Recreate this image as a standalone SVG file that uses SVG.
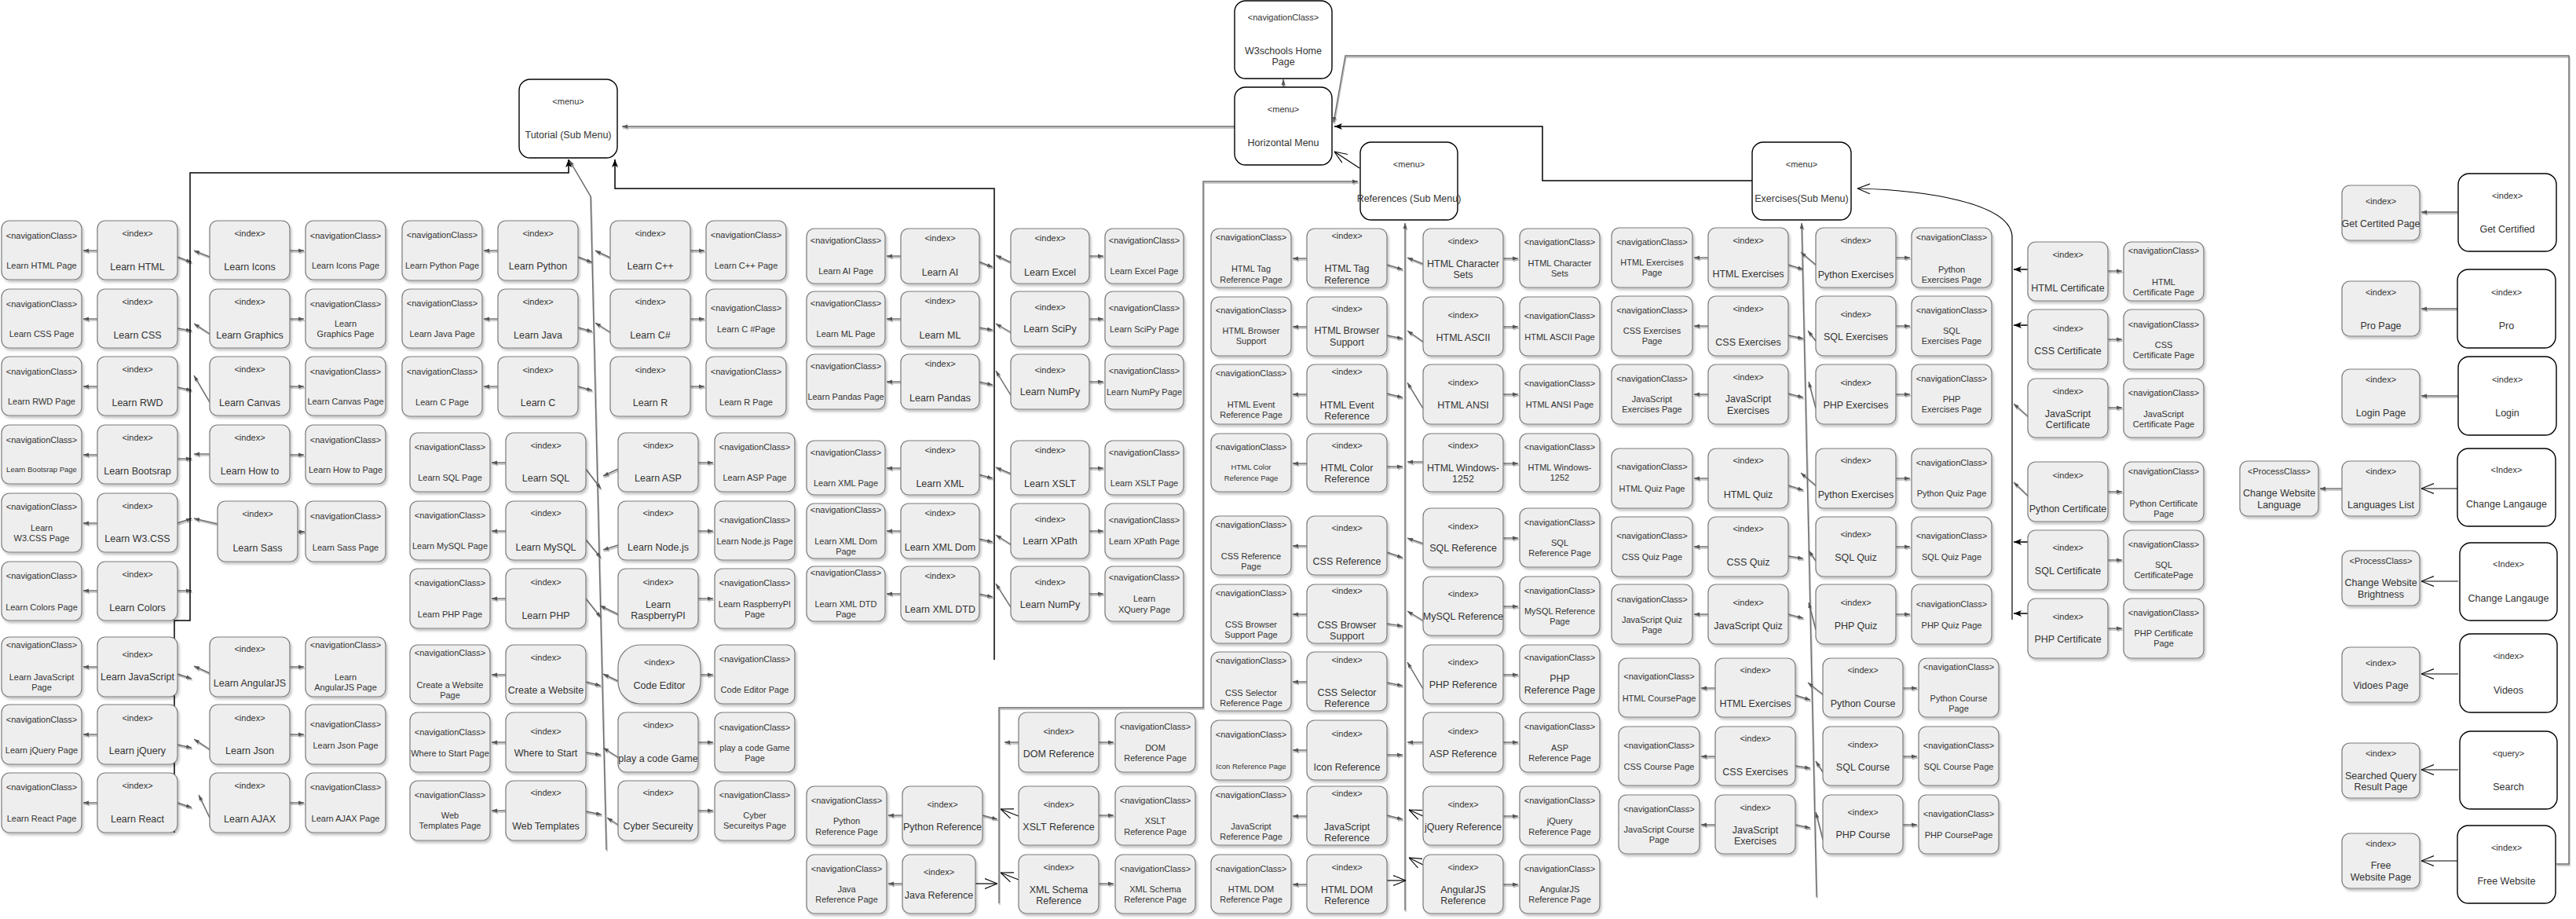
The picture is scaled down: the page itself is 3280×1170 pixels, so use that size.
<svg xmlns="http://www.w3.org/2000/svg" width="3280" height="1170" viewBox="0 0 3280 1170">
<style>
rect.n{fill:#eeeeee;stroke:#7a7a7a;stroke-width:1.2;filter:url(#ds)}
rect.m{fill:#ffffff;stroke:#000;stroke-width:1.4}
text{font-family:"Liberation Sans",Arial,Helvetica,sans-serif;fill:#333;text-anchor:middle}
.s{font-size:11px}
.l{font-size:12.5px}
.p{font-size:11px}
.t{font-size:9.5px}
.g{fill:none;stroke:#6a6a6a;stroke-width:1.4;marker-end:url(#af)}
.k{fill:none;stroke:#000;stroke-width:1.5;marker-end:url(#ab)}
.o{fill:none;stroke:#000;stroke-width:1.2;marker-end:url(#ao)}
</style>
<defs>
<filter id="ds" x="-10%" y="-10%" width="130%" height="130%"><feDropShadow dx="2" dy="3" stdDeviation="1.5" flood-color="#000" flood-opacity="0.22"/></filter>
<filter id="ls" filterUnits="userSpaceOnUse" x="0" y="0" width="3280" height="1170"><feDropShadow dx="1" dy="2" stdDeviation="0.6" flood-color="#000" flood-opacity="0.28"/></filter>
<marker id="af" viewBox="0 0 10 10" refX="10" refY="5" markerWidth="7" markerHeight="7" orient="auto" markerUnits="userSpaceOnUse"><path d="M0,1.5 L10,5 L0,8.5 z" fill="#555"/></marker>
<marker id="ab" viewBox="0 0 10 10" refX="10" refY="5" markerWidth="10" markerHeight="10" orient="auto" markerUnits="userSpaceOnUse"><path d="M0,1 L10,5 L0,9 L2.5,5 z" fill="#000"/></marker>
<marker id="ao" viewBox="0 0 20 20" refX="20" refY="10" markerWidth="16" markerHeight="16" orient="auto" markerUnits="userSpaceOnUse"><path d="M0,2 L20,10 L0,18" fill="none" stroke="#000" stroke-width="1.4"/></marker>
</defs>
<rect width="3280" height="1170" fill="#fff"/>

<!-- ================= CONNECTORS ================= -->
<g id="connectors">
<g id="gray-connectors" filter="url(#ls)">
<path class="g" d="M1572,161 H792"/>
<path class="g" d="M1634,111 V101"/>
<path class="g" d="M772,1082 L752,250 L725,204"/>
<path class="g" d="M1272,1150 V901 H1532 V231 H1729"/>
<path class="g" d="M1789,1159 V284"/>
<path class="g" d="M2313,1142 L2294,284"/>
<path class="g" d="M3255,1100 H3271 V71 H1713 L1698,156"/>
<!-- right column -->
<path class="g" d="M3130,270 H3083"/>
<path class="g" d="M3130,393 H3083"/>
<path class="g" d="M3130,504 H3083"/>
<path class="g" d="M2982,622 H2954"/>
<path class="g" d="M2582,530 L2564,514"/>
<path class="g" d="M2582,631 L2564,614"/>
<!-- T1 index -> nav -->
<path class="g" d="M124,319 H106"/><path class="g" d="M124,406 H106"/><path class="g" d="M124,492 H106"/><path class="g" d="M124,579 H106"/><path class="g" d="M124,666 H106"/><path class="g" d="M124,752 H106"/><path class="g" d="M124,849 H106"/><path class="g" d="M124,935 H106"/><path class="g" d="M124,1022 H106"/>
<path class="g" d="M369,319 H387"/><path class="g" d="M369,406 H387"/><path class="g" d="M369,492 H387"/><path class="g" d="M369,579 H387"/><path class="g" d="M379,677 H388"/><path class="g" d="M369,849 H387"/><path class="g" d="M369,935 H387"/><path class="g" d="M369,1022 H387"/>
<!-- T1 to line -->
<path class="g" d="M226,327 L244,334"/><path class="g" d="M226,418 L244,421"/><path class="g" d="M226,493 L244,497"/><path class="g" d="M226,584 H244"/><path class="g" d="M226,666 L244,660"/><path class="g" d="M226,752 H244"/><path class="g" d="M226,858 L244,864"/><path class="g" d="M226,948 L244,952"/><path class="g" d="M226,1022 L244,1028"/>
<path class="g" d="M267,327 L247,319"/><path class="g" d="M267,425 L247,412"/><path class="g" d="M267,512 L247,478"/><path class="g" d="M267,578 H247"/><path class="g" d="M277,667 L247,660"/><path class="g" d="M267,857 L247,848"/><path class="g" d="M267,954 L247,941"/><path class="g" d="M267,1041 L253,1012"/>
<!-- T2 -->
<path class="g" d="M634,319 H616"/><path class="g" d="M634,406 H616"/><path class="g" d="M634,492 H616"/>
<path class="g" d="M644,589 H626"/><path class="g" d="M644,676 H626"/><path class="g" d="M644,762 H626"/><path class="g" d="M644,859 H626"/><path class="g" d="M644,945 H626"/><path class="g" d="M644,1032 H626"/>
<path class="g" d="M879,319 H897"/><path class="g" d="M879,406 H897"/><path class="g" d="M879,492 H897"/>
<path class="g" d="M889,589 H908"/><path class="g" d="M889,676 H908"/><path class="g" d="M889,762 H908"/><path class="g" d="M892,859 H908"/><path class="g" d="M889,945 H908"/><path class="g" d="M889,1032 H908"/>
<path class="g" d="M736,327 L754,334"/><path class="g" d="M736,417 L754,422"/><path class="g" d="M736,492 L754,497"/>
<path class="g" d="M777,328 L758,319"/><path class="g" d="M777,423 L758,411"/>
<path class="g" d="M746,597 L765,622"/><path class="g" d="M746,687 L765,710"/><path class="g" d="M746,762 L765,786"/><path class="g" d="M746,868 L765,873"/><path class="g" d="M746,958 L765,961"/><path class="g" d="M746,1033 L766,1037"/>
<path class="g" d="M787,597 L768,606"/><path class="g" d="M787,694 L768,700"/><path class="g" d="M787,782 L764,771"/><path class="g" d="M787,867 L768,858"/><path class="g" d="M787,964 L768,952"/><path class="g" d="M787,1050 L773,1041"/>
<!-- T3 -->
<path class="g" d="M1147,326 H1129"/><path class="g" d="M1147,406 H1129"/><path class="g" d="M1147,486 H1129"/><path class="g" d="M1147,596 H1129"/><path class="g" d="M1147,676 H1129"/><path class="g" d="M1147,756 H1129"/>
<path class="g" d="M1387,326 H1405"/><path class="g" d="M1387,406 H1405"/><path class="g" d="M1387,486 H1405"/><path class="g" d="M1387,596 H1405"/><path class="g" d="M1387,676 H1405"/><path class="g" d="M1387,756 H1405"/>
<path class="g" d="M1246,333 L1264,340"/><path class="g" d="M1246,417 L1264,420"/><path class="g" d="M1246,486 L1264,490"/><path class="g" d="M1246,604 L1264,609"/><path class="g" d="M1246,686 L1264,690"/><path class="g" d="M1246,756 L1264,760"/>
<path class="g" d="M1287,334 L1268,325"/><path class="g" d="M1287,423 L1268,412"/><path class="g" d="M1287,503 L1268,472"/><path class="g" d="M1287,603 L1268,595"/><path class="g" d="M1287,693 L1268,681"/><path class="g" d="M1287,773 L1268,743"/>
<!-- R1 -->
<path class="g" d="M1149,1038 H1131"/><path class="g" d="M1149,1125 H1131"/>
<path class="g" d="M1399,945 H1418"/><path class="g" d="M1399,1038 H1418"/><path class="g" d="M1399,1125 H1418"/>
<path class="g" d="M1297,945 H1279"/><path class="g" d="M1251,1038 L1270,1043"/>
<!-- R2 -->
<path class="g" d="M1664,329 H1646"/><path class="g" d="M1664,416 H1646"/><path class="g" d="M1664,502 H1646"/><path class="g" d="M1664,590 H1646"/><path class="g" d="M1664,695 H1646"/><path class="g" d="M1664,782 H1646"/><path class="g" d="M1664,868 H1646"/><path class="g" d="M1664,955 H1646"/><path class="g" d="M1664,1039 H1646"/><path class="g" d="M1664,1126 H1646"/>
<path class="g" d="M1914,329 H1933"/><path class="g" d="M1914,416 H1933"/><path class="g" d="M1914,502 H1933"/><path class="g" d="M1914,590 H1933"/><path class="g" d="M1914,685 H1933"/><path class="g" d="M1914,772 H1933"/><path class="g" d="M1914,859 H1933"/><path class="g" d="M1914,945 H1933"/><path class="g" d="M1914,1039 H1933"/><path class="g" d="M1914,1126 H1933"/>
<path class="g" d="M1766,337 L1786,343"/><path class="g" d="M1766,427 L1786,431"/><path class="g" d="M1766,501 L1786,506"/><path class="g" d="M1766,594 H1786"/><path class="g" d="M1766,703 L1786,710"/><path class="g" d="M1766,794 L1786,797"/><path class="g" d="M1766,869 L1786,873"/><path class="g" d="M1766,961 H1786"/><path class="g" d="M1766,1038 L1786,1043"/>
<path class="g" d="M1812,336 L1792,328"/><path class="g" d="M1812,435 L1792,421"/><path class="g" d="M1812,520 L1792,487"/><path class="g" d="M1812,588 H1792"/><path class="g" d="M1812,692 L1792,685"/><path class="g" d="M1812,790 L1792,778"/><path class="g" d="M1812,877 L1792,843"/><path class="g" d="M1812,945 H1792"/>
<!-- X -->
<path class="g" d="M2175,328 H2157"/><path class="g" d="M2175,415 H2157"/><path class="g" d="M2175,502 H2157"/><path class="g" d="M2175,609 H2157"/><path class="g" d="M2175,696 H2157"/><path class="g" d="M2175,782 H2157"/>
<path class="g" d="M2184,876 H2166"/><path class="g" d="M2184,963 H2166"/><path class="g" d="M2184,1050 H2166"/>
<path class="g" d="M2414,328 H2432"/><path class="g" d="M2414,415 H2432"/><path class="g" d="M2414,502 H2432"/><path class="g" d="M2414,609 H2432"/><path class="g" d="M2414,696 H2432"/><path class="g" d="M2414,782 H2432"/>
<path class="g" d="M2423,876 H2441"/><path class="g" d="M2423,963 H2441"/><path class="g" d="M2423,1050 H2441"/>
<path class="g" d="M2277,337 L2296,343"/><path class="g" d="M2277,427 L2296,431"/><path class="g" d="M2277,501 L2296,506"/><path class="g" d="M2277,618 L2296,624"/><path class="g" d="M2277,708 L2296,711"/><path class="g" d="M2277,782 L2296,787"/>
<path class="g" d="M2286,885 L2305,891"/><path class="g" d="M2286,975 L2305,978"/><path class="g" d="M2286,1050 L2305,1054"/>
<path class="g" d="M2312,337 L2293,321"/><path class="g" d="M2312,434 L2302,421"/><path class="g" d="M2312,520 L2303,486"/><path class="g" d="M2312,618 L2293,602"/><path class="g" d="M2312,714 L2303,701"/><path class="g" d="M2312,802 L2303,767"/>
<path class="g" d="M2321,884 L2302,869"/><path class="g" d="M2321,983 L2312,969"/><path class="g" d="M2321,1069 L2312,1034"/>
<!-- certs -->
<path class="g" d="M2684,345 H2702"/><path class="g" d="M2684,432 H2702"/><path class="g" d="M2684,519 H2702"/><path class="g" d="M2684,626 H2702"/><path class="g" d="M2684,713 H2702"/><path class="g" d="M2684,800 H2702"/>
</g>
<g id="black-connectors">
<path class="k" d="M222,1060 V790 H242 V220 H724 V203"/>
<path class="k" d="M1266,840 V240 H783 V203"/>
<path class="k" d="M2231,230 H1964 V161 H1699"/>
<path class="o" d="M1731,214 L1699,193"/>
<path class="o" d="M2562,789 V300 C2558,258 2450,242 2365,240"/>
<path class="k" d="M2582,343 H2564"/><path class="k" d="M2582,414 H2564"/><path class="k" d="M2582,690 H2564"/><path class="k" d="M2582,781 H2564"/>
<path class="o" d="M1297,1039 L1274,1030"/><path class="o" d="M1242,1125 H1270"/><path class="o" d="M1297,1120 L1274,1111"/>
<path class="o" d="M1812,1039 L1794,1031"/><path class="o" d="M1766,1121 H1790"/><path class="o" d="M1812,1101 L1794,1092"/>
<path class="o" d="M3130,622 H3083"/><path class="o" d="M3130,740 H3083"/><path class="o" d="M3130,858 H3083"/><path class="o" d="M3130,980 H3083"/><path class="o" d="M3130,1096 H3083"/>
</g>
</g>

<!-- ================= MENUS ================= -->
<g id="w3schools-home"><rect class="m" x="1572" y="1" width="124" height="99" rx="14"/><text class="s" x="1634" y="26">&lt;navigationClass&gt;</text><text class="l" x="1634" y="69">W3schools Home</text><text class="l" x="1634" y="83">Page</text></g>
<g id="horizontal-menu"><rect class="m" x="1572" y="111" width="124" height="99" rx="14"/><text class="s" x="1634" y="143">&lt;menu&gt;</text><text class="l" x="1634" y="186">Horizontal Menu</text></g>
<g id="tutorial-menu"><rect class="m" x="661" y="101" width="125" height="100" rx="14"/><text class="s" x="723.5" y="133">&lt;menu&gt;</text><text class="l" x="723.5" y="176">Tutorial (Sub Menu)</text></g>
<g id="references-menu"><rect class="m" x="1732" y="181" width="124" height="99" rx="14"/><text class="s" x="1794" y="213">&lt;menu&gt;</text><text class="l" x="1794" y="257">References (Sub Menu)</text></g>
<g id="exercises-menu"><rect class="m" x="2231" y="181" width="126" height="99" rx="14"/><text class="s" x="2294" y="213">&lt;menu&gt;</text><text class="l" x="2294" y="257">Exercises(Sub Menu)</text></g>

<!-- ================= TUTORIAL GROUP 1 ================= -->
<g id="learn-html-page"><rect class="n" x="2" y="281" width="102" height="75" rx="10"/><text class="s" x="53" y="304">&lt;navigationClass&gt;</text><text class="p" x="53" y="342">Learn HTML Page</text></g>
<g id="learn-html"><rect class="n" x="124" y="281" width="102" height="75" rx="10"/><text class="s" x="175" y="301">&lt;index&gt;</text><text class="l" x="175" y="344">Learn HTML</text></g>
<g id="learn-icons"><rect class="n" x="267" y="281" width="102" height="75" rx="10"/><text class="s" x="318" y="301">&lt;index&gt;</text><text class="l" x="318" y="344">Learn Icons</text></g>
<g id="learn-icons-page"><rect class="n" x="389" y="281" width="102" height="75" rx="10"/><text class="s" x="440" y="304">&lt;navigationClass&gt;</text><text class="p" x="440" y="342">Learn Icons Page</text></g>

<g id="learn-css-page"><rect class="n" x="2" y="368" width="102" height="75" rx="10"/><text class="s" x="53" y="391">&lt;navigationClass&gt;</text><text class="p" x="53" y="429">Learn CSS Page</text></g>
<g id="learn-css"><rect class="n" x="124" y="368" width="102" height="75" rx="10"/><text class="s" x="175" y="388">&lt;index&gt;</text><text class="l" x="175" y="431">Learn CSS</text></g>
<g id="learn-graphics"><rect class="n" x="267" y="368" width="102" height="75" rx="10"/><text class="s" x="318" y="388">&lt;index&gt;</text><text class="l" x="318" y="431">Learn Graphics</text></g>
<g id="learn-graphics-page"><rect class="n" x="389" y="368" width="102" height="75" rx="10"/><text class="s" x="440" y="391">&lt;navigationClass&gt;</text><text class="p" x="440" y="416">Learn</text><text class="p" x="440" y="429">Graphics Page</text></g>

<g id="learn-rwd-page"><rect class="n" x="2" y="454" width="102" height="75" rx="10"/><text class="s" x="53" y="477">&lt;navigationClass&gt;</text><text class="p" x="53" y="515">Learn RWD Page</text></g>
<g id="learn-rwd"><rect class="n" x="124" y="454" width="102" height="75" rx="10"/><text class="s" x="175" y="474">&lt;index&gt;</text><text class="l" x="175" y="517">Learn RWD</text></g>
<g id="learn-canvas"><rect class="n" x="267" y="454" width="102" height="75" rx="10"/><text class="s" x="318" y="474">&lt;index&gt;</text><text class="l" x="318" y="517">Learn Canvas</text></g>
<g id="learn-canvas-page"><rect class="n" x="389" y="454" width="102" height="75" rx="10"/><text class="s" x="440" y="477">&lt;navigationClass&gt;</text><text class="p" x="440" y="515">Learn Canvas Page</text></g>

<g id="learn-bootsrap-page"><rect class="n" x="2" y="541" width="102" height="75" rx="10"/><text class="s" x="53" y="564">&lt;navigationClass&gt;</text><text class="t" x="53" y="601">Learn Bootsrap Page</text></g>
<g id="learn-bootsrap"><rect class="n" x="124" y="541" width="102" height="75" rx="10"/><text class="s" x="175" y="561">&lt;index&gt;</text><text class="l" x="175" y="604">Learn Bootsrap</text></g>
<g id="learn-how-to"><rect class="n" x="267" y="541" width="102" height="75" rx="10"/><text class="s" x="318" y="561">&lt;index&gt;</text><text class="l" x="318" y="604">Learn How to</text></g>
<g id="learn-how-to-page"><rect class="n" x="389" y="541" width="102" height="75" rx="10"/><text class="s" x="440" y="564">&lt;navigationClass&gt;</text><text class="p" x="440" y="602">Learn How to Page</text></g>

<g id="learn-w3css-page"><rect class="n" x="2" y="628" width="102" height="75" rx="10"/><text class="s" x="53" y="649">&lt;navigationClass&gt;</text><text class="p" x="53" y="676">Learn</text><text class="p" x="53" y="689">W3.CSS Page</text></g>
<g id="learn-w3css"><rect class="n" x="124" y="628" width="102" height="75" rx="10"/><text class="s" x="175" y="648">&lt;index&gt;</text><text class="l" x="175" y="690">Learn W3.CSS</text></g>
<g id="learn-sass"><rect class="n" x="277" y="638" width="102" height="77" rx="10"/><text class="s" x="328" y="658">&lt;index&gt;</text><text class="l" x="328" y="702">Learn Sass</text></g>
<g id="learn-sass-page"><rect class="n" x="389" y="638" width="102" height="77" rx="10"/><text class="s" x="440" y="661">&lt;navigationClass&gt;</text><text class="p" x="440" y="701">Learn Sass Page</text></g>

<g id="learn-colors-page"><rect class="n" x="2" y="715" width="102" height="75" rx="10"/><text class="s" x="53" y="737">&lt;navigationClass&gt;</text><text class="p" x="53" y="777">Learn Colors Page</text></g>
<g id="learn-colors"><rect class="n" x="124" y="715" width="102" height="75" rx="10"/><text class="s" x="175" y="735">&lt;index&gt;</text><text class="l" x="175" y="778">Learn Colors</text></g>

<g id="learn-javascript-page"><rect class="n" x="2" y="811" width="102" height="76" rx="10"/><text class="s" x="53" y="825">&lt;navigationClass&gt;</text><text class="p" x="53" y="866">Learn JavaScript</text><text class="p" x="53" y="879">Page</text></g>
<g id="learn-javascript"><rect class="n" x="124" y="811" width="102" height="76" rx="10"/><text class="s" x="175" y="837">&lt;index&gt;</text><text class="l" x="175" y="866">Learn JavaScript</text></g>
<g id="learn-angularjs"><rect class="n" x="267" y="811" width="102" height="76" rx="10"/><text class="s" x="318" y="830">&lt;index&gt;</text><text class="l" x="318" y="874">Learn AngularJS</text></g>
<g id="learn-angularjs-page"><rect class="n" x="389" y="811" width="102" height="76" rx="10"/><text class="s" x="440" y="825">&lt;navigationClass&gt;</text><text class="p" x="440" y="866">Learn</text><text class="p" x="440" y="879">AngularJS Page</text></g>

<g id="learn-jquery-page"><rect class="n" x="2" y="897" width="102" height="76" rx="10"/><text class="s" x="53" y="920">&lt;navigationClass&gt;</text><text class="p" x="53" y="959">Learn jQuery Page</text></g>
<g id="learn-jquery"><rect class="n" x="124" y="897" width="102" height="76" rx="10"/><text class="s" x="175" y="918">&lt;index&gt;</text><text class="l" x="175" y="960">Learn jQuery</text></g>
<g id="learn-json"><rect class="n" x="267" y="897" width="102" height="76" rx="10"/><text class="s" x="318" y="918">&lt;index&gt;</text><text class="l" x="318" y="960">Learn Json</text></g>
<g id="learn-json-page"><rect class="n" x="389" y="897" width="102" height="76" rx="10"/><text class="s" x="440" y="926">&lt;navigationClass&gt;</text><text class="p" x="440" y="953">Learn Json Page</text></g>

<g id="learn-react-page"><rect class="n" x="2" y="984" width="102" height="76" rx="10"/><text class="s" x="53" y="1006">&lt;navigationClass&gt;</text><text class="p" x="53" y="1046">Learn React Page</text></g>
<g id="learn-react"><rect class="n" x="124" y="984" width="102" height="76" rx="10"/><text class="s" x="175" y="1004">&lt;index&gt;</text><text class="l" x="175" y="1047">Learn React</text></g>
<g id="learn-ajax"><rect class="n" x="267" y="984" width="102" height="76" rx="10"/><text class="s" x="318" y="1004">&lt;index&gt;</text><text class="l" x="318" y="1047">Learn AJAX</text></g>
<g id="learn-ajax-page"><rect class="n" x="389" y="984" width="102" height="76" rx="10"/><text class="s" x="440" y="1006">&lt;navigationClass&gt;</text><text class="p" x="440" y="1046">Learn AJAX Page</text></g>

<!-- ================= TUTORIAL GROUP 2 ================= -->
<g id="learn-python-page"><rect class="n" x="512" y="281" width="102" height="76" rx="10"/><text class="s" x="563" y="303">&lt;navigationClass&gt;</text><text class="p" x="563" y="342">Learn Python Page</text></g>
<g id="learn-python"><rect class="n" x="634" y="281" width="102" height="76" rx="10"/><text class="s" x="685" y="301">&lt;index&gt;</text><text class="l" x="685" y="343">Learn Python</text></g>
<g id="learn-cpp"><rect class="n" x="777" y="281" width="102" height="76" rx="10"/><text class="s" x="828" y="301">&lt;index&gt;</text><text class="l" x="828" y="343">Learn C++</text></g>
<g id="learn-cpp-page"><rect class="n" x="899" y="281" width="102" height="76" rx="10"/><text class="s" x="950" y="303">&lt;navigationClass&gt;</text><text class="p" x="950" y="342">Learn C++ Page</text></g>

<g id="learn-java-page"><rect class="n" x="512" y="368" width="102" height="75" rx="10"/><text class="s" x="563" y="390">&lt;navigationClass&gt;</text><text class="p" x="563" y="429">Learn Java Page</text></g>
<g id="learn-java"><rect class="n" x="634" y="368" width="102" height="75" rx="10"/><text class="s" x="685" y="388">&lt;index&gt;</text><text class="l" x="685" y="431">Learn Java</text></g>
<g id="learn-csharp"><rect class="n" x="777" y="368" width="102" height="75" rx="10"/><text class="s" x="828" y="388">&lt;index&gt;</text><text class="l" x="828" y="431">Learn C#</text></g>
<g id="learn-csharp-page"><rect class="n" x="899" y="368" width="102" height="75" rx="10"/><text class="s" x="950" y="396">&lt;navigationClass&gt;</text><text class="p" x="950" y="423">Learn C #Page</text></g>

<g id="learn-c-page"><rect class="n" x="512" y="454" width="102" height="76" rx="10"/><text class="s" x="563" y="477">&lt;navigationClass&gt;</text><text class="p" x="563" y="516">Learn C Page</text></g>
<g id="learn-c"><rect class="n" x="634" y="454" width="102" height="76" rx="10"/><text class="s" x="685" y="475">&lt;index&gt;</text><text class="l" x="685" y="517">Learn C</text></g>
<g id="learn-r"><rect class="n" x="777" y="454" width="102" height="76" rx="10"/><text class="s" x="828" y="475">&lt;index&gt;</text><text class="l" x="828" y="517">Learn R</text></g>
<g id="learn-r-page"><rect class="n" x="899" y="454" width="102" height="76" rx="10"/><text class="s" x="950" y="477">&lt;navigationClass&gt;</text><text class="p" x="950" y="516">Learn R Page</text></g>

<g id="learn-sql-page"><rect class="n" x="522" y="551" width="102" height="75" rx="10"/><text class="s" x="573" y="573">&lt;navigationClass&gt;</text><text class="p" x="573" y="612">Learn SQL Page</text></g>
<g id="learn-sql"><rect class="n" x="644" y="551" width="102" height="75" rx="10"/><text class="s" x="695" y="571">&lt;index&gt;</text><text class="l" x="695" y="613">Learn SQL</text></g>
<g id="learn-asp"><rect class="n" x="787" y="551" width="102" height="75" rx="10"/><text class="s" x="838" y="571">&lt;index&gt;</text><text class="l" x="838" y="613">Learn ASP</text></g>
<g id="learn-asp-page"><rect class="n" x="910" y="551" width="102" height="75" rx="10"/><text class="s" x="961" y="573">&lt;navigationClass&gt;</text><text class="p" x="961" y="612">Learn ASP Page</text></g>

<g id="learn-mysql-page"><rect class="n" x="522" y="638" width="102" height="75" rx="10"/><text class="s" x="573" y="660">&lt;navigationClass&gt;</text><text class="p" x="573" y="699">Learn MySQL Page</text></g>
<g id="learn-mysql"><rect class="n" x="644" y="638" width="102" height="75" rx="10"/><text class="s" x="695" y="657">&lt;index&gt;</text><text class="l" x="695" y="701">Learn MySQL</text></g>
<g id="learn-nodejs"><rect class="n" x="787" y="638" width="102" height="75" rx="10"/><text class="s" x="838" y="657">&lt;index&gt;</text><text class="l" x="838" y="701">Learn Node.js</text></g>
<g id="learn-nodejs-page"><rect class="n" x="910" y="638" width="102" height="75" rx="10"/><text class="s" x="961" y="666">&lt;navigationClass&gt;</text><text class="p" x="961" y="693">Learn Node.js Page</text></g>

<g id="learn-php-page"><rect class="n" x="522" y="724" width="102" height="76" rx="10"/><text class="s" x="573" y="746">&lt;navigationClass&gt;</text><text class="p" x="573" y="786">Learn PHP Page</text></g>
<g id="learn-php"><rect class="n" x="644" y="724" width="102" height="76" rx="10"/><text class="s" x="695" y="745">&lt;index&gt;</text><text class="l" x="695" y="788">Learn PHP</text></g>
<g id="learn-raspberrypi"><rect class="n" x="787" y="724" width="102" height="76" rx="10"/><text class="s" x="838" y="745">&lt;index&gt;</text><text class="l" x="838" y="774">Learn</text><text class="l" x="838" y="788">RaspberryPI</text></g>
<g id="learn-raspberrypi-page"><rect class="n" x="910" y="724" width="102" height="76" rx="10"/><text class="s" x="961" y="746">&lt;navigationClass&gt;</text><text class="p" x="961" y="773">Learn RaspberryPI</text><text class="p" x="961" y="786">Page</text></g>

<g id="create-a-website-page"><rect class="n" x="522" y="821" width="102" height="75" rx="10"/><text class="s" x="573" y="835">&lt;navigationClass&gt;</text><text class="p" x="573" y="876">Create a Website</text><text class="p" x="573" y="889">Page</text></g>
<g id="create-a-website"><rect class="n" x="644" y="821" width="102" height="75" rx="10"/><text class="s" x="695" y="841">&lt;index&gt;</text><text class="l" x="695" y="883">Create a Website</text></g>
<g id="code-editor"><rect class="n" x="787" y="821" width="105" height="75" rx="28"/><text class="s" x="839.5" y="847">&lt;index&gt;</text><text class="l" x="839.5" y="877">Code Editor</text></g>
<g id="code-editor-page"><rect class="n" x="910" y="821" width="102" height="75" rx="10"/><text class="s" x="961" y="843">&lt;navigationClass&gt;</text><text class="p" x="961" y="882">Code Editor Page</text></g>

<g id="where-to-start-page"><rect class="n" x="522" y="907" width="102" height="76" rx="10"/><text class="s" x="573" y="936">&lt;navigationClass&gt;</text><text class="p" x="573" y="963">Where to Start Page</text></g>
<g id="where-to-start"><rect class="n" x="644" y="907" width="102" height="76" rx="10"/><text class="s" x="695" y="935">&lt;index&gt;</text><text class="l" x="695" y="963">Where to Start</text></g>
<g id="play-a-code-game"><rect class="n" x="787" y="907" width="102" height="76" rx="10"/><text class="s" x="838" y="927">&lt;index&gt;</text><text class="l" x="838" y="970">play a code Game</text></g>
<g id="play-a-code-game-page"><rect class="n" x="910" y="907" width="102" height="76" rx="10"/><text class="s" x="961" y="930">&lt;navigationClass&gt;</text><text class="p" x="961" y="956">play a code Game</text><text class="p" x="961" y="969">Page</text></g>

<g id="web-templates-page"><rect class="n" x="522" y="994" width="102" height="76" rx="10"/><text class="s" x="573" y="1016">&lt;navigationClass&gt;</text><text class="p" x="573" y="1042">Web</text><text class="p" x="573" y="1055">Templates Page</text></g>
<g id="web-templates"><rect class="n" x="644" y="994" width="102" height="76" rx="10"/><text class="s" x="695" y="1013">&lt;index&gt;</text><text class="l" x="695" y="1056">Web Templates</text></g>
<g id="cyber-secureity"><rect class="n" x="787" y="994" width="102" height="76" rx="10"/><text class="s" x="838" y="1013">&lt;index&gt;</text><text class="l" x="838" y="1056">Cyber Secureity</text></g>
<g id="cyber-secureitys-page"><rect class="n" x="910" y="994" width="102" height="76" rx="10"/><text class="s" x="961" y="1016">&lt;navigationClass&gt;</text><text class="p" x="961" y="1042">Cyber</text><text class="p" x="961" y="1055">Secureitys Page</text></g>

<!-- ================= TUTORIAL GROUP 3 ================= -->
<g id="learn-ai-page"><rect class="n" x="1027" y="291" width="100" height="70" rx="10"/><text class="s" x="1077" y="310">&lt;navigationClass&gt;</text><text class="p" x="1077" y="349">Learn AI Page</text></g>
<g id="learn-ai"><rect class="n" x="1147" y="291" width="100" height="70" rx="10"/><text class="s" x="1197" y="307">&lt;index&gt;</text><text class="l" x="1197" y="351">Learn AI</text></g>
<g id="learn-excel"><rect class="n" x="1287" y="291" width="100" height="70" rx="10"/><text class="s" x="1337" y="307">&lt;index&gt;</text><text class="l" x="1337" y="351">Learn Excel</text></g>
<g id="learn-excel-page"><rect class="n" x="1407" y="291" width="100" height="70" rx="10"/><text class="s" x="1457" y="310">&lt;navigationClass&gt;</text><text class="p" x="1457" y="349">Learn Excel Page</text></g>

<g id="learn-ml-page"><rect class="n" x="1027" y="371" width="100" height="70" rx="10"/><text class="s" x="1077" y="390">&lt;navigationClass&gt;</text><text class="p" x="1077" y="429">Learn ML Page</text></g>
<g id="learn-ml"><rect class="n" x="1147" y="371" width="100" height="70" rx="10"/><text class="s" x="1197" y="387">&lt;index&gt;</text><text class="l" x="1197" y="431">Learn ML</text></g>
<g id="learn-scipy"><rect class="n" x="1287" y="371" width="100" height="70" rx="10"/><text class="s" x="1337" y="395">&lt;index&gt;</text><text class="l" x="1337" y="423">Learn SciPy</text></g>
<g id="learn-scipy-page"><rect class="n" x="1407" y="371" width="100" height="70" rx="10"/><text class="s" x="1457" y="396">&lt;navigationClass&gt;</text><text class="p" x="1457" y="423">Learn SciPy Page</text></g>

<g id="learn-pandas-page"><rect class="n" x="1027" y="451" width="100" height="70" rx="10"/><text class="s" x="1077" y="470">&lt;navigationClass&gt;</text><text class="p" x="1077" y="509">Learn Pandas Page</text></g>
<g id="learn-pandas"><rect class="n" x="1147" y="451" width="100" height="70" rx="10"/><text class="s" x="1197" y="467">&lt;index&gt;</text><text class="l" x="1197" y="511">Learn Pandas</text></g>
<g id="learn-numpy"><rect class="n" x="1287" y="451" width="100" height="70" rx="10"/><text class="s" x="1337" y="475">&lt;index&gt;</text><text class="l" x="1337" y="503">Learn NumPy</text></g>
<g id="learn-numpy-page"><rect class="n" x="1407" y="451" width="100" height="70" rx="10"/><text class="s" x="1457" y="476">&lt;navigationClass&gt;</text><text class="p" x="1457" y="503">Learn NumPy Page</text></g>

<g id="learn-xml-page"><rect class="n" x="1027" y="561" width="100" height="69" rx="10"/><text class="s" x="1077" y="580">&lt;navigationClass&gt;</text><text class="p" x="1077" y="619">Learn XML Page</text></g>
<g id="learn-xml"><rect class="n" x="1147" y="561" width="100" height="69" rx="10"/><text class="s" x="1197" y="577">&lt;index&gt;</text><text class="l" x="1197" y="620">Learn XML</text></g>
<g id="learn-xslt"><rect class="n" x="1287" y="561" width="100" height="69" rx="10"/><text class="s" x="1337" y="577">&lt;index&gt;</text><text class="l" x="1337" y="620">Learn XSLT</text></g>
<g id="learn-xslt-page"><rect class="n" x="1407" y="561" width="100" height="69" rx="10"/><text class="s" x="1457" y="580">&lt;navigationClass&gt;</text><text class="p" x="1457" y="619">Learn XSLT Page</text></g>

<g id="learn-xml-dom-page"><rect class="n" x="1027" y="641" width="100" height="70" rx="10"/><text class="s" x="1077" y="653">&lt;navigationClass&gt;</text><text class="p" x="1077" y="693">Learn XML Dom</text><text class="p" x="1077" y="706">Page</text></g>
<g id="learn-xml-dom"><rect class="n" x="1147" y="641" width="100" height="70" rx="10"/><text class="s" x="1197" y="657">&lt;index&gt;</text><text class="l" x="1197" y="701">Learn XML Dom</text></g>
<g id="learn-xpath"><rect class="n" x="1287" y="641" width="100" height="70" rx="10"/><text class="s" x="1337" y="665">&lt;index&gt;</text><text class="l" x="1337" y="693">Learn XPath</text></g>
<g id="learn-xpath-page"><rect class="n" x="1407" y="641" width="100" height="70" rx="10"/><text class="s" x="1457" y="666">&lt;navigationClass&gt;</text><text class="p" x="1457" y="693">Learn XPath Page</text></g>

<g id="learn-xml-dtd-page"><rect class="n" x="1027" y="721" width="100" height="70" rx="10"/><text class="s" x="1077" y="733">&lt;navigationClass&gt;</text><text class="p" x="1077" y="773">Learn XML DTD</text><text class="p" x="1077" y="786">Page</text></g>
<g id="learn-xml-dtd"><rect class="n" x="1147" y="721" width="100" height="70" rx="10"/><text class="s" x="1197" y="737">&lt;index&gt;</text><text class="l" x="1197" y="780">Learn XML DTD</text></g>
<g id="learn-numpy-2"><rect class="n" x="1287" y="721" width="100" height="70" rx="10"/><text class="s" x="1337" y="745">&lt;index&gt;</text><text class="l" x="1337" y="774">Learn NumPy</text></g>
<g id="learn-xquery-page"><rect class="n" x="1407" y="721" width="100" height="70" rx="10"/><text class="s" x="1457" y="739">&lt;navigationClass&gt;</text><text class="p" x="1457" y="766">Learn</text><text class="p" x="1457" y="780">XQuery Page</text></g>

<!-- ================= REFERENCES GROUP 1 ================= -->
<g id="python-reference-page"><rect class="n" x="1027" y="1001" width="102" height="75" rx="10"/><text class="s" x="1078" y="1023">&lt;navigationClass&gt;</text><text class="p" x="1078" y="1049">Python</text><text class="p" x="1078" y="1063">Reference Page</text></g>
<g id="python-reference"><rect class="n" x="1149" y="1001" width="102" height="75" rx="10"/><text class="s" x="1200" y="1028">&lt;index&gt;</text><text class="l" x="1200" y="1057">Python Reference</text></g>
<g id="java-reference-page"><rect class="n" x="1027" y="1088" width="102" height="75" rx="10"/><text class="s" x="1078" y="1110">&lt;navigationClass&gt;</text><text class="p" x="1078" y="1136">Java</text><text class="p" x="1078" y="1149">Reference Page</text></g>
<g id="java-reference"><rect class="n" x="1149" y="1088" width="93" height="75" rx="10"/><text class="s" x="1195.5" y="1114">&lt;index&gt;</text><text class="l" x="1195.5" y="1144">Java Reference</text></g>
<g id="dom-reference"><rect class="n" x="1297" y="907" width="102" height="76" rx="10"/><text class="s" x="1348" y="935">&lt;index&gt;</text><text class="l" x="1348" y="964">DOM Reference</text></g>
<g id="dom-reference-page"><rect class="n" x="1420" y="907" width="102" height="76" rx="10"/><text class="s" x="1471" y="929">&lt;navigationClass&gt;</text><text class="p" x="1471" y="956">DOM</text><text class="p" x="1471" y="969">Reference Page</text></g>
<g id="xslt-reference"><rect class="n" x="1297" y="1001" width="102" height="75" rx="10"/><text class="s" x="1348" y="1028">&lt;index&gt;</text><text class="l" x="1348" y="1057">XSLT Reference</text></g>
<g id="xslt-reference-page"><rect class="n" x="1420" y="1001" width="102" height="75" rx="10"/><text class="s" x="1471" y="1023">&lt;navigationClass&gt;</text><text class="p" x="1471" y="1049">XSLT</text><text class="p" x="1471" y="1063">Reference Page</text></g>
<g id="xml-schema-reference"><rect class="n" x="1297" y="1088" width="102" height="75" rx="10"/><text class="s" x="1348" y="1108">&lt;index&gt;</text><text class="l" x="1348" y="1137">XML Schema</text><text class="l" x="1348" y="1151">Reference</text></g>
<g id="xml-schema-reference-page"><rect class="n" x="1420" y="1088" width="102" height="75" rx="10"/><text class="s" x="1471" y="1110">&lt;navigationClass&gt;</text><text class="p" x="1471" y="1136">XML Schema</text><text class="p" x="1471" y="1149">Reference Page</text></g>

<!-- ================= REFERENCES GROUP 2 ================= -->
<g id="html-tag-reference-page"><rect class="n" x="1542" y="291" width="102" height="75" rx="10"/><text class="s" x="1593" y="306">&lt;navigationClass&gt;</text><text class="p" x="1593" y="346">HTML Tag</text><text class="p" x="1593" y="360">Reference Page</text></g>
<g id="html-tag-reference"><rect class="n" x="1664" y="291" width="102" height="75" rx="10"/><text class="s" x="1715" y="304">&lt;index&gt;</text><text class="l" x="1715" y="346">HTML Tag</text><text class="l" x="1715" y="361">Reference</text></g>
<g id="html-character-sets"><rect class="n" x="1812" y="291" width="102" height="75" rx="10"/><text class="s" x="1863" y="311">&lt;index&gt;</text><text class="l" x="1863" y="340">HTML Character</text><text class="l" x="1863" y="354">Sets</text></g>
<g id="html-character-sets-page"><rect class="n" x="1935" y="291" width="102" height="75" rx="10"/><text class="s" x="1986" y="312">&lt;navigationClass&gt;</text><text class="p" x="1986" y="339">HTML Character</text><text class="p" x="1986" y="352">Sets</text></g>

<g id="html-browser-support-page"><rect class="n" x="1542" y="378" width="102" height="75" rx="10"/><text class="s" x="1593" y="399">&lt;navigationClass&gt;</text><text class="p" x="1593" y="425">HTML Browser</text><text class="p" x="1593" y="438">Support</text></g>
<g id="html-browser-support"><rect class="n" x="1664" y="378" width="102" height="75" rx="10"/><text class="s" x="1715" y="397">&lt;index&gt;</text><text class="l" x="1715" y="425">HTML Browser</text><text class="l" x="1715" y="440">Support</text></g>
<g id="html-ascii"><rect class="n" x="1812" y="378" width="102" height="75" rx="10"/><text class="s" x="1863" y="405">&lt;index&gt;</text><text class="l" x="1863" y="434">HTML ASCII</text></g>
<g id="html-ascii-page"><rect class="n" x="1935" y="378" width="102" height="75" rx="10"/><text class="s" x="1986" y="406">&lt;navigationClass&gt;</text><text class="p" x="1986" y="433">HTML ASCII Page</text></g>

<g id="html-event-reference-page"><rect class="n" x="1542" y="464" width="102" height="76" rx="10"/><text class="s" x="1593" y="479">&lt;navigationClass&gt;</text><text class="p" x="1593" y="519">HTML Event</text><text class="p" x="1593" y="532">Reference Page</text></g>
<g id="html-event-reference"><rect class="n" x="1664" y="464" width="102" height="76" rx="10"/><text class="s" x="1715" y="477">&lt;index&gt;</text><text class="l" x="1715" y="520">HTML Event</text><text class="l" x="1715" y="534">Reference</text></g>
<g id="html-ansi"><rect class="n" x="1812" y="464" width="102" height="76" rx="10"/><text class="s" x="1863" y="491">&lt;index&gt;</text><text class="l" x="1863" y="520">HTML ANSI</text></g>
<g id="html-ansi-page"><rect class="n" x="1935" y="464" width="102" height="76" rx="10"/><text class="s" x="1986" y="492">&lt;navigationClass&gt;</text><text class="p" x="1986" y="519">HTML ANSI Page</text></g>

<g id="html-color-reference-page"><rect class="n" x="1542" y="552" width="102" height="74" rx="10"/><text class="s" x="1593" y="573">&lt;navigationClass&gt;</text><text class="t" x="1593" y="598">HTML Color</text><text class="t" x="1593" y="612">Reference Page</text></g>
<g id="html-color-reference"><rect class="n" x="1664" y="552" width="102" height="74" rx="10"/><text class="s" x="1715" y="571">&lt;index&gt;</text><text class="l" x="1715" y="600">HTML Color</text><text class="l" x="1715" y="614">Reference</text></g>
<g id="html-windows-1252"><rect class="n" x="1812" y="552" width="102" height="74" rx="10"/><text class="s" x="1863" y="571">&lt;index&gt;</text><text class="l" x="1863" y="600">HTML Windows-</text><text class="l" x="1863" y="614">1252</text></g>
<g id="html-windows-1252-page"><rect class="n" x="1935" y="552" width="102" height="74" rx="10"/><text class="s" x="1986" y="573">&lt;navigationClass&gt;</text><text class="p" x="1986" y="599">HTML Windows-</text><text class="p" x="1986" y="612">1252</text></g>

<g id="css-reference-page"><rect class="n" x="1542" y="657" width="102" height="75" rx="10"/><text class="s" x="1593" y="672">&lt;navigationClass&gt;</text><text class="p" x="1593" y="712">CSS Reference</text><text class="p" x="1593" y="725">Page</text></g>
<g id="css-reference"><rect class="n" x="1664" y="657" width="102" height="75" rx="10"/><text class="s" x="1715" y="676">&lt;index&gt;</text><text class="l" x="1715" y="719">CSS Reference</text></g>
<g id="sql-reference"><rect class="n" x="1812" y="647" width="102" height="75" rx="10"/><text class="s" x="1863" y="674">&lt;index&gt;</text><text class="l" x="1863" y="702">SQL Reference</text></g>
<g id="sql-reference-page"><rect class="n" x="1935" y="647" width="102" height="75" rx="10"/><text class="s" x="1986" y="669">&lt;navigationClass&gt;</text><text class="p" x="1986" y="695">SQL</text><text class="p" x="1986" y="708">Reference Page</text></g>

<g id="css-browser-support-page"><rect class="n" x="1542" y="744" width="102" height="75" rx="10"/><text class="s" x="1593" y="759">&lt;navigationClass&gt;</text><text class="p" x="1593" y="799">CSS Browser</text><text class="p" x="1593" y="812">Support Page</text></g>
<g id="css-browser-support"><rect class="n" x="1664" y="744" width="102" height="75" rx="10"/><text class="s" x="1715" y="756">&lt;index&gt;</text><text class="l" x="1715" y="800">CSS Browser</text><text class="l" x="1715" y="814">Support</text></g>
<g id="mysql-reference"><rect class="n" x="1812" y="734" width="102" height="75" rx="10"/><text class="s" x="1863" y="760">&lt;index&gt;</text><text class="l" x="1863" y="789">MySQL Reference</text></g>
<g id="mysql-reference-page"><rect class="n" x="1935" y="734" width="102" height="75" rx="10"/><text class="s" x="1986" y="756">&lt;navigationClass&gt;</text><text class="p" x="1986" y="782">MySQL Reference</text><text class="p" x="1986" y="795">Page</text></g>

<g id="css-selector-reference-page"><rect class="n" x="1542" y="830" width="102" height="75" rx="10"/><text class="s" x="1593" y="845">&lt;navigationClass&gt;</text><text class="p" x="1593" y="886">CSS Selector</text><text class="p" x="1593" y="899">Reference Page</text></g>
<g id="css-selector-reference"><rect class="n" x="1664" y="830" width="102" height="75" rx="10"/><text class="s" x="1715" y="844">&lt;index&gt;</text><text class="l" x="1715" y="886">CSS Selector</text><text class="l" x="1715" y="900">Reference</text></g>
<g id="php-reference"><rect class="n" x="1812" y="821" width="102" height="75" rx="10"/><text class="s" x="1863" y="847">&lt;index&gt;</text><text class="l" x="1863" y="876">PHP Reference</text></g>
<g id="php-reference-page"><rect class="n" x="1935" y="821" width="102" height="75" rx="10"/><text class="s" x="1986" y="841">&lt;navigationClass&gt;</text><text class="l" x="1986" y="868">PHP</text><text class="l" x="1986" y="883">Reference Page</text></g>

<g id="icon-reference-page"><rect class="n" x="1542" y="917" width="102" height="76" rx="10"/><text class="s" x="1593" y="939">&lt;navigationClass&gt;</text><text class="t" x="1593" y="979">Icon Reference Page</text></g>
<g id="icon-reference"><rect class="n" x="1664" y="917" width="102" height="76" rx="10"/><text class="s" x="1715" y="938">&lt;index&gt;</text><text class="l" x="1715" y="981">Icon Reference</text></g>
<g id="asp-reference"><rect class="n" x="1812" y="907" width="102" height="76" rx="10"/><text class="s" x="1863" y="935">&lt;index&gt;</text><text class="l" x="1863" y="964">ASP Reference</text></g>
<g id="asp-reference-page"><rect class="n" x="1935" y="907" width="102" height="76" rx="10"/><text class="s" x="1986" y="929">&lt;navigationClass&gt;</text><text class="p" x="1986" y="956">ASP</text><text class="p" x="1986" y="969">Reference Page</text></g>

<g id="javascript-reference-page"><rect class="n" x="1542" y="1001" width="102" height="75" rx="10"/><text class="s" x="1593" y="1016">&lt;navigationClass&gt;</text><text class="p" x="1593" y="1056">JavaScript</text><text class="p" x="1593" y="1069">Reference Page</text></g>
<g id="javascript-reference"><rect class="n" x="1664" y="1001" width="102" height="75" rx="10"/><text class="s" x="1715" y="1014">&lt;index&gt;</text><text class="l" x="1715" y="1057">JavaScript</text><text class="l" x="1715" y="1071">Reference</text></g>
<g id="jquery-reference"><rect class="n" x="1812" y="1001" width="102" height="75" rx="10"/><text class="s" x="1863" y="1028">&lt;index&gt;</text><text class="l" x="1863" y="1057">jQuery Reference</text></g>
<g id="jquery-reference-page"><rect class="n" x="1935" y="1001" width="102" height="75" rx="10"/><text class="s" x="1986" y="1023">&lt;navigationClass&gt;</text><text class="p" x="1986" y="1049">jQuery</text><text class="p" x="1986" y="1063">Reference Page</text></g>

<g id="html-dom-reference-page"><rect class="n" x="1542" y="1088" width="102" height="75" rx="10"/><text class="s" x="1593" y="1110">&lt;navigationClass&gt;</text><text class="p" x="1593" y="1136">HTML DOM</text><text class="p" x="1593" y="1149">Reference Page</text></g>
<g id="html-dom-reference"><rect class="n" x="1664" y="1088" width="102" height="75" rx="10"/><text class="s" x="1715" y="1108">&lt;index&gt;</text><text class="l" x="1715" y="1137">HTML DOM</text><text class="l" x="1715" y="1151">Reference</text></g>
<g id="angularjs-reference"><rect class="n" x="1812" y="1088" width="102" height="75" rx="10"/><text class="s" x="1863" y="1108">&lt;index&gt;</text><text class="l" x="1863" y="1137">AngularJS</text><text class="l" x="1863" y="1151">Reference</text></g>
<g id="angularjs-reference-page"><rect class="n" x="1935" y="1088" width="102" height="75" rx="10"/><text class="s" x="1986" y="1110">&lt;navigationClass&gt;</text><text class="p" x="1986" y="1136">AngularJS</text><text class="p" x="1986" y="1149">Reference Page</text></g>

<!-- ================= EXERCISES ================= -->
<g id="html-exercises-page"><rect class="n" x="2052" y="290" width="103" height="76" rx="10"/><text class="s" x="2103.5" y="312">&lt;navigationClass&gt;</text><text class="p" x="2103.5" y="338">HTML Exercises</text><text class="p" x="2103.5" y="351">Page</text></g>
<g id="html-exercises"><rect class="n" x="2175" y="290" width="102" height="76" rx="10"/><text class="s" x="2226" y="310">&lt;index&gt;</text><text class="l" x="2226" y="353">HTML Exercises</text></g>
<g id="python-exercises"><rect class="n" x="2312" y="290" width="102" height="76" rx="10"/><text class="s" x="2363" y="310">&lt;index&gt;</text><text class="l" x="2363" y="354">Python Exercises</text></g>
<g id="python-exercises-page"><rect class="n" x="2434" y="290" width="102" height="76" rx="10"/><text class="s" x="2485" y="306">&lt;navigationClass&gt;</text><text class="p" x="2485" y="347">Python</text><text class="p" x="2485" y="360">Exercises Page</text></g>

<g id="css-exercises-page"><rect class="n" x="2052" y="377" width="103" height="76" rx="10"/><text class="s" x="2103.5" y="399">&lt;navigationClass&gt;</text><text class="p" x="2103.5" y="425">CSS Exercises</text><text class="p" x="2103.5" y="438">Page</text></g>
<g id="css-exercises"><rect class="n" x="2175" y="377" width="102" height="76" rx="10"/><text class="s" x="2226" y="397">&lt;index&gt;</text><text class="l" x="2226" y="440">CSS Exercises</text></g>
<g id="sql-exercises"><rect class="n" x="2312" y="377" width="102" height="76" rx="10"/><text class="s" x="2363" y="404">&lt;index&gt;</text><text class="l" x="2363" y="433">SQL Exercises</text></g>
<g id="sql-exercises-page"><rect class="n" x="2434" y="377" width="102" height="76" rx="10"/><text class="s" x="2485" y="399">&lt;navigationClass&gt;</text><text class="p" x="2485" y="425">SQL</text><text class="p" x="2485" y="438">Exercises Page</text></g>

<g id="javascript-exercises-page"><rect class="n" x="2052" y="464" width="103" height="76" rx="10"/><text class="s" x="2103.5" y="486">&lt;navigationClass&gt;</text><text class="p" x="2103.5" y="512">JavaScript</text><text class="p" x="2103.5" y="525">Exercises Page</text></g>
<g id="javascript-exercises"><rect class="n" x="2175" y="464" width="102" height="76" rx="10"/><text class="s" x="2226" y="484">&lt;index&gt;</text><text class="l" x="2226" y="512">JavaScript</text><text class="l" x="2226" y="527">Exercises</text></g>
<g id="php-exercises"><rect class="n" x="2312" y="464" width="102" height="76" rx="10"/><text class="s" x="2363" y="491">&lt;index&gt;</text><text class="l" x="2363" y="520">PHP Exercises</text></g>
<g id="php-exercises-page"><rect class="n" x="2434" y="464" width="102" height="76" rx="10"/><text class="s" x="2485" y="486">&lt;navigationClass&gt;</text><text class="p" x="2485" y="512">PHP</text><text class="p" x="2485" y="525">Exercises Page</text></g>

<g id="html-quiz-page"><rect class="n" x="2052" y="571" width="103" height="76" rx="10"/><text class="s" x="2103.5" y="598">&lt;navigationClass&gt;</text><text class="p" x="2103.5" y="626">HTML Quiz Page</text></g>
<g id="html-quiz"><rect class="n" x="2175" y="571" width="102" height="76" rx="10"/><text class="s" x="2226" y="590">&lt;index&gt;</text><text class="l" x="2226" y="634">HTML Quiz</text></g>
<g id="python-exercises-2"><rect class="n" x="2312" y="571" width="102" height="76" rx="10"/><text class="s" x="2363" y="590">&lt;index&gt;</text><text class="l" x="2363" y="634">Python Exercises</text></g>
<g id="python-quiz-page"><rect class="n" x="2434" y="571" width="102" height="76" rx="10"/><text class="s" x="2485" y="593">&lt;navigationClass&gt;</text><text class="p" x="2485" y="632">Python Quiz Page</text></g>

<g id="css-quiz-page"><rect class="n" x="2052" y="658" width="103" height="76" rx="10"/><text class="s" x="2103.5" y="686">&lt;navigationClass&gt;</text><text class="p" x="2103.5" y="713">CSS Quiz Page</text></g>
<g id="css-quiz"><rect class="n" x="2175" y="658" width="102" height="76" rx="10"/><text class="s" x="2226" y="677">&lt;index&gt;</text><text class="l" x="2226" y="720">CSS Quiz</text></g>
<g id="sql-quiz"><rect class="n" x="2312" y="658" width="102" height="76" rx="10"/><text class="s" x="2363" y="684">&lt;index&gt;</text><text class="l" x="2363" y="714">SQL Quiz</text></g>
<g id="sql-quiz-page"><rect class="n" x="2434" y="658" width="102" height="76" rx="10"/><text class="s" x="2485" y="686">&lt;navigationClass&gt;</text><text class="p" x="2485" y="713">SQL Quiz Page</text></g>

<g id="javascript-quiz-page"><rect class="n" x="2052" y="744" width="103" height="76" rx="10"/><text class="s" x="2103.5" y="767">&lt;navigationClass&gt;</text><text class="p" x="2103.5" y="793">JavaScript Quiz</text><text class="p" x="2103.5" y="806">Page</text></g>
<g id="javascript-quiz"><rect class="n" x="2175" y="744" width="102" height="76" rx="10"/><text class="s" x="2226" y="771">&lt;index&gt;</text><text class="l" x="2226" y="801">JavaScript Quiz</text></g>
<g id="php-quiz"><rect class="n" x="2312" y="744" width="102" height="76" rx="10"/><text class="s" x="2363" y="771">&lt;index&gt;</text><text class="l" x="2363" y="801">PHP Quiz</text></g>
<g id="php-quiz-page"><rect class="n" x="2434" y="744" width="102" height="76" rx="10"/><text class="s" x="2485" y="773">&lt;navigationClass&gt;</text><text class="p" x="2485" y="800">PHP Quiz Page</text></g>

<g id="html-course-page"><rect class="n" x="2061" y="838" width="103" height="75" rx="10"/><text class="s" x="2112.5" y="865">&lt;navigationClass&gt;</text><text class="p" x="2112.5" y="893">HTML CoursePage</text></g>
<g id="html-exercises-course"><rect class="n" x="2184" y="838" width="102" height="75" rx="10"/><text class="s" x="2235" y="857">&lt;index&gt;</text><text class="l" x="2235" y="900">HTML Exercises</text></g>
<g id="python-course"><rect class="n" x="2321" y="838" width="102" height="75" rx="10"/><text class="s" x="2372" y="857">&lt;index&gt;</text><text class="l" x="2372" y="900">Python Course</text></g>
<g id="python-course-page"><rect class="n" x="2443" y="838" width="102" height="75" rx="10"/><text class="s" x="2494" y="853">&lt;navigationClass&gt;</text><text class="p" x="2494" y="893">Python Course</text><text class="p" x="2494" y="906">Page</text></g>

<g id="css-course-page"><rect class="n" x="2061" y="925" width="103" height="75" rx="10"/><text class="s" x="2112.5" y="953">&lt;navigationClass&gt;</text><text class="p" x="2112.5" y="980">CSS Course Page</text></g>
<g id="css-exercises-course"><rect class="n" x="2184" y="925" width="102" height="75" rx="10"/><text class="s" x="2235" y="944">&lt;index&gt;</text><text class="l" x="2235" y="987">CSS Exercises</text></g>
<g id="sql-course"><rect class="n" x="2321" y="925" width="102" height="75" rx="10"/><text class="s" x="2372" y="952">&lt;index&gt;</text><text class="l" x="2372" y="981">SQL Course</text></g>
<g id="sql-course-page"><rect class="n" x="2443" y="925" width="102" height="75" rx="10"/><text class="s" x="2494" y="953">&lt;navigationClass&gt;</text><text class="p" x="2494" y="980">SQL Course Page</text></g>

<g id="javascript-course-page"><rect class="n" x="2061" y="1012" width="103" height="75" rx="10"/><text class="s" x="2112.5" y="1034">&lt;navigationClass&gt;</text><text class="p" x="2112.5" y="1060">JavaScript Course</text><text class="p" x="2112.5" y="1073">Page</text></g>
<g id="javascript-exercises-course"><rect class="n" x="2184" y="1012" width="102" height="75" rx="10"/><text class="s" x="2235" y="1032">&lt;index&gt;</text><text class="l" x="2235" y="1061">JavaScript</text><text class="l" x="2235" y="1075">Exercises</text></g>
<g id="php-course"><rect class="n" x="2321" y="1012" width="102" height="75" rx="10"/><text class="s" x="2372" y="1038">&lt;index&gt;</text><text class="l" x="2372" y="1067">PHP Course</text></g>
<g id="php-course-page"><rect class="n" x="2443" y="1012" width="102" height="75" rx="10"/><text class="s" x="2494" y="1040">&lt;navigationClass&gt;</text><text class="p" x="2494" y="1067">PHP CoursePage</text></g>

<!-- ================= CERTIFICATES ================= -->
<g id="html-certificate"><rect class="n" x="2582" y="308" width="102" height="75" rx="10"/><text class="s" x="2633" y="328">&lt;index&gt;</text><text class="l" x="2633" y="371">HTML Certificate</text></g>
<g id="html-certificate-page"><rect class="n" x="2704" y="308" width="102" height="75" rx="10"/><text class="s" x="2755" y="323">&lt;navigationClass&gt;</text><text class="p" x="2755" y="363">HTML</text><text class="p" x="2755" y="376">Certificate Page</text></g>
<g id="css-certificate"><rect class="n" x="2582" y="394" width="102" height="76" rx="10"/><text class="s" x="2633" y="422">&lt;index&gt;</text><text class="l" x="2633" y="451">CSS Certificate</text></g>
<g id="css-certificate-page"><rect class="n" x="2704" y="394" width="102" height="76" rx="10"/><text class="s" x="2755" y="417">&lt;navigationClass&gt;</text><text class="p" x="2755" y="443">CSS</text><text class="p" x="2755" y="456">Certificate Page</text></g>
<g id="javascript-certificate"><rect class="n" x="2582" y="482" width="102" height="75" rx="10"/><text class="s" x="2633" y="502">&lt;index&gt;</text><text class="l" x="2633" y="531">JavaScript</text><text class="l" x="2633" y="545">Certificate</text></g>
<g id="javascript-certificate-page"><rect class="n" x="2704" y="482" width="102" height="75" rx="10"/><text class="s" x="2755" y="504">&lt;navigationClass&gt;</text><text class="p" x="2755" y="531">JavaScript</text><text class="p" x="2755" y="544">Certificate Page</text></g>
<g id="python-certificate"><rect class="n" x="2582" y="588" width="102" height="76" rx="10"/><text class="s" x="2633" y="609">&lt;index&gt;</text><text class="l" x="2633" y="652">Python Certificate</text></g>
<g id="python-certificate-page"><rect class="n" x="2704" y="588" width="102" height="76" rx="10"/><text class="s" x="2755" y="604">&lt;navigationClass&gt;</text><text class="p" x="2755" y="645">Python Certificate</text><text class="p" x="2755" y="658">Page</text></g>
<g id="sql-certificate"><rect class="n" x="2582" y="675" width="102" height="76" rx="10"/><text class="s" x="2633" y="701">&lt;index&gt;</text><text class="l" x="2633" y="731">SQL Certificate</text></g>
<g id="sql-certificate-page"><rect class="n" x="2704" y="675" width="102" height="76" rx="10"/><text class="s" x="2755" y="697">&lt;navigationClass&gt;</text><text class="p" x="2755" y="723">SQL</text><text class="p" x="2755" y="736">CertificatePage</text></g>
<g id="php-certificate"><rect class="n" x="2582" y="762" width="102" height="76" rx="10"/><text class="s" x="2633" y="789">&lt;index&gt;</text><text class="l" x="2633" y="818">PHP Certificate</text></g>
<g id="php-certificate-page"><rect class="n" x="2704" y="762" width="102" height="76" rx="10"/><text class="s" x="2755" y="784">&lt;navigationClass&gt;</text><text class="p" x="2755" y="810">PHP Certificate</text><text class="p" x="2755" y="823">Page</text></g>

<!-- ================= RIGHT COLUMN ================= -->
<g id="get-certited-page"><rect class="n" x="2982" y="236" width="99" height="70" rx="10"/><text class="s" x="3031.5" y="260">&lt;index&gt;</text><text class="l" x="3031.5" y="289">Get Certited Page</text></g>
<g id="get-certified"><rect class="m" x="3130" y="221" width="125" height="99" rx="14"/><text class="s" x="3192.5" y="253">&lt;index&gt;</text><text class="l" x="3192.5" y="296">Get Certified</text></g>
<g id="pro-page"><rect class="n" x="2982" y="358" width="99" height="70" rx="10"/><text class="s" x="3031.5" y="376">&lt;index&gt;</text><text class="l" x="3031.5" y="419">Pro Page</text></g>
<g id="pro"><rect class="m" x="3129" y="343" width="125" height="100" rx="14"/><text class="s" x="3191.5" y="376">&lt;index&gt;</text><text class="l" x="3191.5" y="419">Pro</text></g>
<g id="login-page"><rect class="n" x="2982" y="470" width="99" height="70" rx="10"/><text class="s" x="3031.5" y="487">&lt;index&gt;</text><text class="l" x="3031.5" y="530">Login Page</text></g>
<g id="login"><rect class="m" x="3130" y="454" width="125" height="100" rx="14"/><text class="s" x="3192.5" y="487">&lt;index&gt;</text><text class="l" x="3192.5" y="530">Login</text></g>
<g id="change-website-language"><rect class="n" x="2852" y="587" width="100" height="70" rx="10"/><text class="s" x="2902" y="604">&lt;ProcessClass&gt;</text><text class="l" x="2902" y="632">Change Website</text><text class="l" x="2902" y="647">Language</text></g>
<g id="languages-list"><rect class="n" x="2982" y="587" width="99" height="70" rx="10"/><text class="s" x="3031.5" y="604">&lt;index&gt;</text><text class="l" x="3031.5" y="647">Languages List</text></g>
<g id="change-langauge"><rect class="m" x="3129" y="571" width="125" height="99" rx="14"/><text class="s" x="3191.5" y="602">&lt;Index&gt;</text><text class="l" x="3191.5" y="646">Change Langauge</text></g>
<g id="change-website-brightness"><rect class="n" x="2982" y="701" width="99" height="70" rx="10"/><text class="s" x="3031.5" y="718">&lt;ProcessClass&gt;</text><text class="l" x="3031.5" y="746">Change Website</text><text class="l" x="3031.5" y="761">Brightness</text></g>
<g id="change-langauge-2"><rect class="m" x="3132" y="691" width="124" height="99" rx="14"/><text class="s" x="3194" y="722">&lt;Index&gt;</text><text class="l" x="3194" y="766">Change Langauge</text></g>
<g id="vidoes-page"><rect class="n" x="2982" y="824" width="99" height="70" rx="10"/><text class="s" x="3031.5" y="848">&lt;index&gt;</text><text class="l" x="3031.5" y="877">Vidoes Page</text></g>
<g id="videos"><rect class="m" x="3132" y="807" width="124" height="100" rx="14"/><text class="s" x="3194" y="839">&lt;index&gt;</text><text class="l" x="3194" y="883">Videos</text></g>
<g id="searched-query-result-page"><rect class="n" x="2982" y="946" width="99" height="70" rx="10"/><text class="s" x="3031.5" y="963">&lt;index&gt;</text><text class="l" x="3031.5" y="992">Searched Query</text><text class="l" x="3031.5" y="1006">Result Page</text></g>
<g id="search"><rect class="m" x="3132" y="931" width="124" height="99" rx="14"/><text class="s" x="3194" y="963">&lt;query&gt;</text><text class="l" x="3194" y="1006">Search</text></g>
<g id="free-website-page"><rect class="n" x="2982" y="1061" width="99" height="70" rx="10"/><text class="s" x="3031.5" y="1078">&lt;index&gt;</text><text class="l" x="3031.5" y="1106">Free</text><text class="l" x="3031.5" y="1121">Website Page</text></g>
<g id="free-website"><rect class="m" x="3129" y="1051" width="125" height="99" rx="14"/><text class="s" x="3191.5" y="1083">&lt;index&gt;</text><text class="l" x="3191.5" y="1126">Free Website</text></g>
</svg>
